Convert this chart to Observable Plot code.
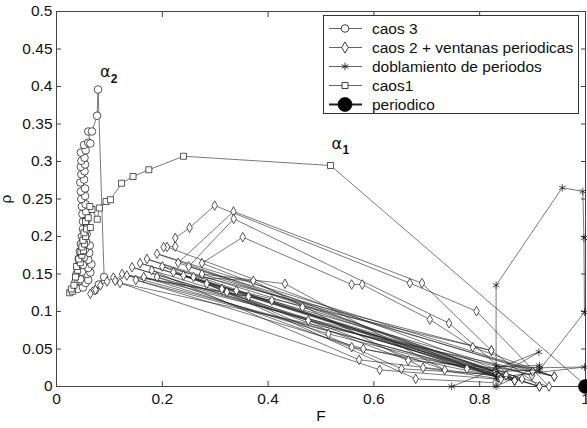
<!DOCTYPE html>
<html><head><meta charset="utf-8">
<script src="https://cdn.jsdelivr.net/npm/d3@7"></script>
<script src="https://cdn.jsdelivr.net/npm/@observablehq/plot@0.6"></script>
<style>
body{margin:0;background:#fff;font-family:"Liberation Sans",Arial,sans-serif;}
#wrap{position:relative;width:587px;height:428px;overflow:hidden;}
#legend{position:absolute;left:323px;top:15px;width:256px;height:99px;border:1px solid #333;background:#fff;box-sizing:border-box;}
</style></head><body><div id="wrap"></div>
<script>
// ---- data: [F, y] ----
const caos3 = [
 [0.040,0.130],[0.050,0.132],[0.036,0.140],[0.055,0.138],[0.045,0.143],[0.060,0.142],[0.038,0.150],[0.058,0.150],
 [0.048,0.153],[0.064,0.152],[0.040,0.160],[0.060,0.158],[0.050,0.162],[0.066,0.163],[0.042,0.170],[0.060,0.169],
 [0.052,0.172],[0.044,0.180],[0.062,0.178],[0.054,0.183],[0.046,0.190],[0.063,0.188],[0.056,0.193],[0.048,0.200],
 [0.057,0.203],[0.050,0.210],[0.058,0.212],[0.050,0.220],[0.057,0.222],[0.049,0.230],[0.056,0.233],[0.048,0.240],
 [0.055,0.243],[0.047,0.250],[0.054,0.254],[0.046,0.260],[0.054,0.264],[0.045,0.272],[0.052,0.276],[0.047,0.283],
 [0.053,0.287],[0.046,0.293],[0.054,0.296],[0.047,0.301],[0.053,0.305],[0.046,0.312],[0.055,0.315],[0.052,0.322],
 [0.060,0.325],[0.064,0.324],[0.060,0.340],[0.067,0.340],[0.0767,0.361],[0.0786,0.396],[0.090,0.146],[0.080,0.136],
 [0.072,0.128]
];
const caos2 = [
 [0.064,0.1236],[0.0736,0.129],[0.083,0.1347],[0.0956,0.140],[0.1075,0.1453],[0.111,0.141],[0.124,0.150],[0.407,0.1147],
 [0.836,0.0124],[0.133,0.148],[0.363,0.120],[0.866,0.008],[0.1428,0.159],[0.476,0.088],[0.830,0.020],[0.158,0.1644],
 [0.899,0.0147],[0.165,0.146],[0.514,0.0702],[0.776,0.0236],[0.171,0.170],[0.465,0.1058],[0.913,0.000],[0.190,0.146],
 [0.558,0.0524],[0.830,0.020],[0.190,0.177],[0.941,0.0133],[0.120,0.138],[0.611,0.0222],[0.866,0.008],[0.150,0.142],
 [0.580,0.0502],[0.836,0.0124],[0.180,0.155],[0.572,0.0356],[0.880,0.010],[0.209,0.186],[0.2025,0.1858],[0.2245,0.1867],
 [0.2245,0.198],[0.2516,0.2116],[0.299,0.2413],[0.668,0.1378],[0.794,0.1004],[0.931,0.000],[0.221,0.1524],[0.340,0.128],
 [0.822,0.048],[0.200,0.160],[0.3126,0.130],[0.652,0.0236],[0.850,0.015],[0.230,0.165],[0.3346,0.2333],[0.691,0.1378],
 [0.822,0.048],[0.913,0.000],[0.240,0.148],[0.322,0.1258],[0.665,0.0347],[0.900,0.020],[0.250,0.160],[0.335,0.2236],
 [0.742,0.0844],[0.866,0.008],[0.259,0.146],[0.372,0.141],[0.693,0.0249],[0.840,0.010],[0.275,0.1644],[0.352,0.1991],
 [0.558,0.136],[0.578,0.136],[0.7057,0.0893],[0.787,0.0524],[0.941,0.0133],[0.275,0.150],[0.432,0.137],[0.734,0.022],
 [0.284,0.137],[0.679,0.0102],[0.830,0.005]
];
const doblamiento = [
 [0.747,0.000],[0.912,0.046],[0.831,0.012],[0.998,0.026],[0.913,0.025],[0.831,0.027],[0.913,0.028],[0.831,0.000],
 [0.831,0.135],[0.956,0.265],[0.995,0.260],[0.997,0.198],[0.998,0.099],[0.913,0.022],[0.831,0.020]
];
const caos1 = [
 [0.025,0.125],[0.030,0.127],[0.028,0.130],[0.033,0.135],[0.036,0.146],[0.040,0.155],[0.038,0.160],[0.045,0.165],
 [0.042,0.170],[0.048,0.175],[0.046,0.180],[0.051,0.181],[0.048,0.186],[0.053,0.190],[0.050,0.195],[0.055,0.200],
 [0.052,0.205],[0.057,0.210],[0.064,0.212],[0.055,0.220],[0.060,0.225],[0.067,0.236],[0.063,0.240],[0.077,0.223],
 [0.081,0.238],[0.0937,0.2467],[0.102,0.249],[0.123,0.271],[0.1447,0.280],[0.1745,0.289],[0.240,0.307],[0.518,0.2947],
 [0.998,0.003]
];
const periodico = [[1.0,0.0]];
const xTicks = [0,0.2,0.4,0.6,0.8,1];
const yTicks = [0,0.05,0.1,0.15,0.2,0.25,0.3,0.35,0.4,0.45,0.5];
const legendLabels = ["caos 3","caos 2 + ventanas periodicas","doblamiento de periodos","caos1","periodico"];
const alphaNotes = [{F:0.092,y:0.419,sub:"2"},{F:0.530,y:0.324,sub:"1"}];

const series = [
 {data:caos3, symbol:"circle", r:3.8, fill:"white"},
 {data:caos2, symbol:"diamond", r:2.9, fill:"white"},
 {data:doblamiento, symbol:"asterisk", r:3.6, fill:"none"},
 {data:caos1, symbol:"square", r:3.4, fill:"white"},
 {data:periodico, symbol:"circle", r:7, fill:"black"}
];
const font = "'Liberation Sans', Arial, sans-serif";
const marks = [
  Plot.frame({stroke:"#444"}),
  Plot.axisX({ticks:xTicks, tickSize:0, tickPadding:6, tickFormat:d=>String(d), fontSize:15.5, label:"F", labelAnchor:"center", labelOffset:34, labelArrow:"none"}),
  Plot.axisX({ticks:xTicks, tickSize:-5, tickFormat:()=>"", label:null, stroke:"#444"}),
  Plot.axisX({anchor:"top", ticks:xTicks, tickSize:-5, tickFormat:()=>"", label:null, stroke:"#444"}),
  Plot.axisY({ticks:yTicks, tickSize:0, tickPadding:4, tickFormat:d=>String(d), fontSize:15.5, label:"ρ", labelAnchor:"center", labelOffset:57, labelArrow:"none"}),
  Plot.axisY({ticks:yTicks, tickSize:-5, tickFormat:()=>"", label:null, stroke:"#444"}),
  Plot.axisY({anchor:"right", ticks:yTicks, tickSize:-5, tickFormat:()=>"", label:null, stroke:"#444"})
];
for (const s of series) {
  marks.push(Plot.line(s.data, {x:d=>d[0], y:d=>d[1], stroke:"#222", strokeWidth:0.6}));
  marks.push(Plot.dot(s.data, {x:d=>d[0], y:d=>d[1], symbol:s.symbol, r:s.r, fill:s.fill, stroke:"#111", strokeWidth:0.7}));
}
marks.push(Plot.text(alphaNotes, {x:"F", y:"y", text:()=>"α", fontSize:16, fontFamily:"'DejaVu Sans', sans-serif", fill:"#111"}));
marks.push(Plot.text(alphaNotes, {x:"F", y:"y", text:"sub", fontSize:12, fontWeight:"bold", dx:9, dy:7, fill:"#111"}));

const chart = Plot.plot({
  width:587, height:428,
  marginLeft:56, marginRight:2, marginTop:11, marginBottom:42,
  x:{domain:[0,1]}, y:{domain:[0,0.5]},
  style:{fontFamily:font, fontSize:"15px", color:"#111", background:"white"},
  marks
});
const wrap = document.getElementById("wrap");
wrap.appendChild(chart);

// legend overlay
const leg = d3.select(wrap).append("div").attr("id","legend");
const lsvg = leg.append("svg").attr("width",254).attr("height",97);
const symGen = {circle:d3.symbolCircle, diamond:d3.symbolDiamond, asterisk:d3.symbolAsterisk, square:d3.symbolSquare};
legendLabels.forEach((lab,i)=>{
  const s = series[i];
  const cy = 12.5 + i*19;
  const g = lsvg.append("g").attr("transform",`translate(0,${cy})`);
  g.append("line").attr("x1",5).attr("x2",38).attr("y1",0).attr("y2",0).attr("stroke","#222").attr("stroke-width", i===4?2:0.7);
  const rr = i===1 ? 3.4 : s.r;
  g.append("path").attr("transform","translate(21,0)")
    .attr("d", d3.symbol(symGen[s.symbol], Math.PI*rr*rr)())
    .attr("fill", s.fill).attr("stroke","#111").attr("stroke-width",0.8);
  g.append("text").attr("x",48).attr("y",0).attr("dy","0.35em").attr("font-size",15.5).attr("font-family",font).attr("fill","#111").text(lab);
});
</script></body></html>
